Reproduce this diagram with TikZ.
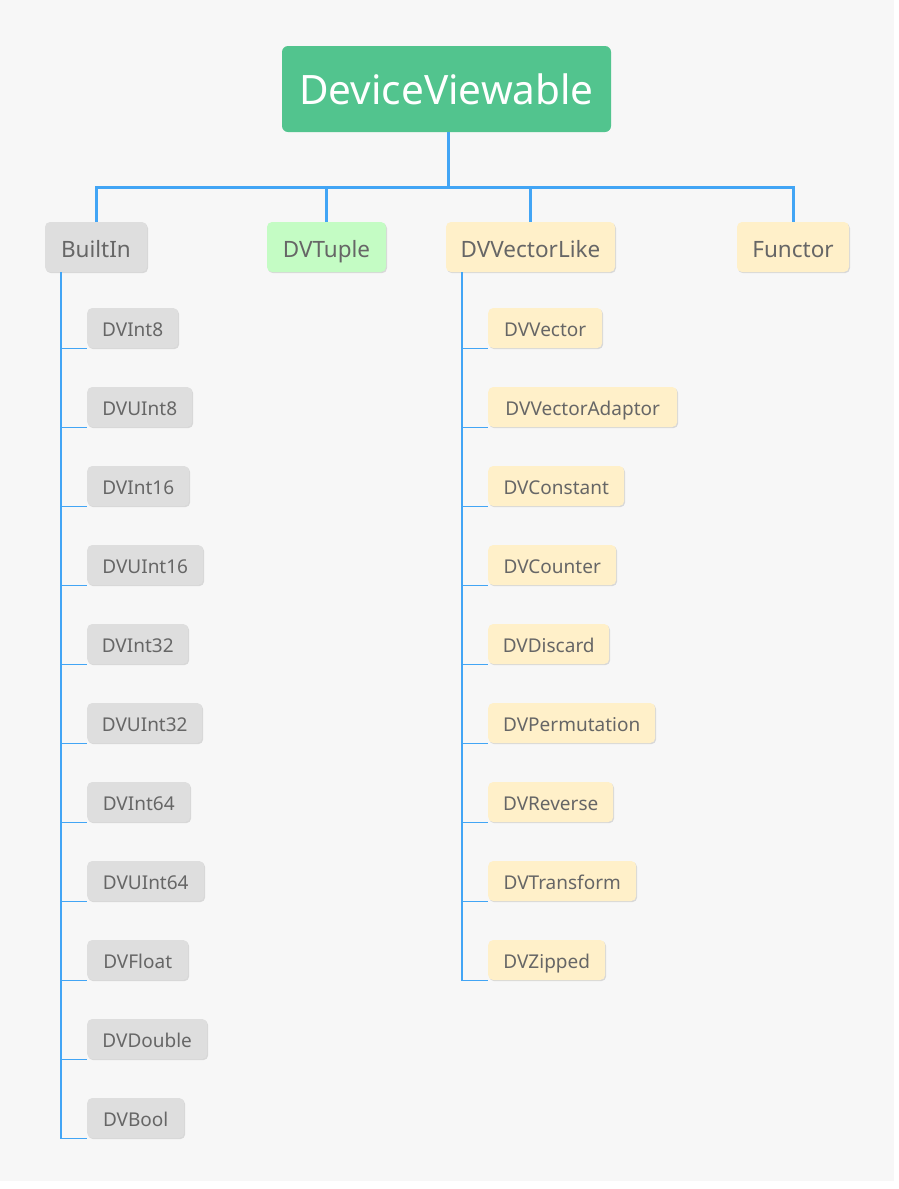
\documentclass[tikz,border=0pt]{standalone}
\usepackage{fontspec}
\setmainfont{Noto Sans}
\usetikzlibrary{shadows}
\definecolor{bgc}{HTML}{F7F7F7}
\definecolor{rootc}{HTML}{52C48E}
\definecolor{linec}{HTML}{42A5F5}
\definecolor{grayc}{HTML}{DEDEDE}
\definecolor{greenc}{HTML}{C4FCC4}
\definecolor{yellowc}{HTML}{FFF0C9}
\definecolor{txtc}{HTML}{666666}
\begin{document}
\begin{tikzpicture}[x=1pt,y=-1pt,
  box/.style={rounded corners=5pt, inner sep=0pt, text=txtc, text depth=0pt,
    drop shadow={shadow xshift=1pt, shadow yshift=-1.2pt, opacity=0.12, fill=black}},
  lvl/.style={box, minimum height=50pt, text height=21pt, font=\fontsize{22.5}{26}\selectfont},
  leaf/.style={box, minimum height=40pt, text height=16pt, anchor=west, font=\fontsize{19}{22}\selectfont},
  gray/.style={fill=grayc}, green/.style={fill=greenc}, yellow/.style={fill=yellowc},
  top/.style={draw=linec, line width=3pt},
  sub/.style={draw=linec, line width=1.4pt}]
\useasboundingbox (0,0) rectangle (899,1189);
\fill[white] (0,0) rectangle (899,1189);
\fill[bgc] (0,0) rectangle (894,1181);
% root
\node[rounded corners=6pt, fill=rootc, text=white, minimum width=329pt, minimum height=86pt,
  inner sep=0pt, text height=31pt, text depth=0pt, font=\fontsize{40.5}{45}\selectfont] (root) at (446.5,89) {DeviceViewable};
% level 1
\node[lvl, gray, minimum width=102pt] (builtin) at (96,247) {BuiltIn};
\node[lvl, green, minimum width=119pt] (tuple) at (326.5,247) {DVTuple};
\node[lvl, yellow, minimum width=169pt] (vlike) at (530.5,247) {DVVectorLike};
\node[lvl, yellow, minimum width=112pt] (functor) at (793,247) {Functor};
\coordinate (hub) at (448,187);
\coordinate (rootb) at (448,132);
\draw[top] (rootb) -- (hub);
\draw[top] (hub) -| (builtin.north);
\draw[top] (hub) -| (tuple.north);
\draw[top] (hub) -| (vlike.north);
\draw[top] (hub) -| (functor.north);
% BuiltIn children
\node[leaf, gray, minimum width=91pt]  (b1)  at (87,328)  {DVInt8};
\node[leaf, gray, minimum width=105pt] (b2)  at (87,407)  {DVUInt8};
\node[leaf, gray, minimum width=102pt] (b3)  at (87,486)  {DVInt16};
\node[leaf, gray, minimum width=116pt] (b4)  at (87,565)  {DVUInt16};
\node[leaf, gray, minimum width=101pt] (b5)  at (87,644)  {DVInt32};
\node[leaf, gray, minimum width=115pt] (b6)  at (87,723)  {DVUInt32};
\node[leaf, gray, minimum width=103pt] (b7)  at (87,802)  {DVInt64};
\node[leaf, gray, minimum width=117pt] (b8)  at (87,881)  {DVUInt64};
\node[leaf, gray, minimum width=101pt] (b9)  at (87,960)  {DVFloat};
\node[leaf, gray, minimum width=120pt] (b10) at (87,1039) {DVDouble};
\node[leaf, gray, minimum width=97pt]  (b11) at (87,1118) {DVBool};
\coordinate (bt) at (61,272);
\foreach \n in {b1,b2,b3,b4,b5,b6,b7,b8,b9,b10,b11}
  \draw[sub] (bt) |- (\n.south west);
% DVVectorLike children
\node[leaf, yellow, minimum width=114pt] (v1) at (488,328) {DVVector};
\node[leaf, yellow, minimum width=189pt] (v2) at (488,407) {DVVectorAdaptor};
\node[leaf, yellow, minimum width=136pt] (v3) at (488,486) {DVConstant};
\node[leaf, yellow, minimum width=128pt] (v4) at (488,565) {DVCounter};
\node[leaf, yellow, minimum width=121pt] (v5) at (488,644) {DVDiscard};
\node[leaf, yellow, minimum width=167pt] (v6) at (488,723) {DVPermutation};
\node[leaf, yellow, minimum width=125pt] (v7) at (488,802) {DVReverse};
\node[leaf, yellow, minimum width=148pt] (v8) at (488,881) {DVTransform};
\node[leaf, yellow, minimum width=117pt] (v9) at (488,960) {DVZipped};
\coordinate (vt) at (462,272);
\foreach \n in {v1,v2,v3,v4,v5,v6,v7,v8,v9}
  \draw[sub] (vt) |- (\n.south west);
\end{tikzpicture}
\end{document}
